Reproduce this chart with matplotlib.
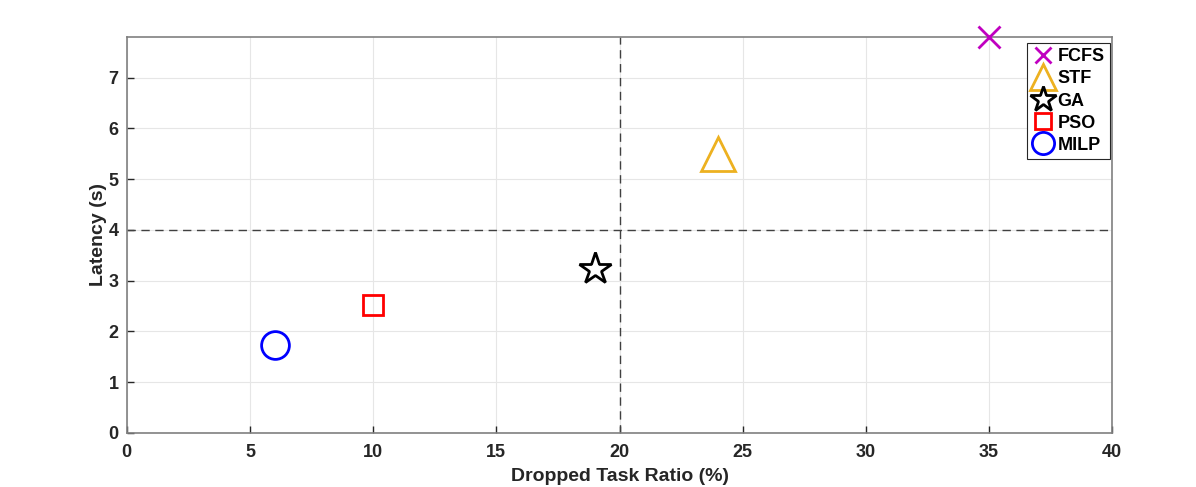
import matplotlib
matplotlib.use("Agg")
import matplotlib.pyplot as plt
from matplotlib.lines import Line2D

# method names and their (dropped task ratio, latency) positions
methods = ["FCFS", "STF", "GA", "PSO", "MILP"]
dropped_ratio = [35, 24, 19, 10, 6]
latency = [7.8, 5.5, 3.22, 2.53, 1.74]

markers = ["x", "^", "*", "s", "o"]
colors = ["#C000C0", "#EDB120", "black", "red", "blue"]
sizes = [16, 24, 24, 15, 20]
legend_sizes = [11, 19, 19, 11, 16]

plt.rcParams["font.family"] = ["Liberation Sans", "DejaVu Sans"]
plt.rcParams["font.weight"] = "bold"

fig = plt.figure(figsize=(11.96, 4.87), dpi=100)
ax = fig.add_axes([0.106, 0.111, 0.824, 0.813])

handles = []
for name, x, y, m, c, s, ls in zip(methods, dropped_ratio, latency, markers, colors, sizes, legend_sizes):
    face = "white" if m == "*" else "none"
    ax.plot([x], [y], linestyle="none", marker=m, markersize=s, markeredgewidth=2,
            markeredgecolor=c, markerfacecolor=face, zorder=3, clip_on=False)
    handles.append(Line2D([], [], linestyle="none", marker=m, markersize=ls, markeredgewidth=2,
                          markeredgecolor=c, markerfacecolor=face, label=name))

ax.axvline(20, color="#404040", linestyle=(0, (6, 4)), linewidth=1, zorder=2)
ax.axhline(4, color="#404040", linestyle=(0, (6, 4)), linewidth=1, zorder=2)

ax.set_xlim(0, 40)
ax.set_ylim(0, 7.8)
ax.set_xticks(range(0, 41, 5))
ax.set_yticks(range(0, 8))
ax.grid(True, color="#E6E6E6", linewidth=0.8)
ax.set_axisbelow(True)
ax.tick_params(direction="in", length=5, width=1, colors="#262626", labelsize=13)
ax.tick_params(axis="x", pad=8)
ax.tick_params(axis="y", pad=6)
for spine in ax.spines.values():
    spine.set_color("#808080")
    spine.set_linewidth(1.2)
for lbl in ax.get_xticklabels() + ax.get_yticklabels():
    lbl.set_fontweight("bold")

ax.set_xlabel("Dropped Task Ratio (%)", fontsize=14, fontweight="bold", color="#262626", labelpad=5)
ax.set_ylabel("Latency (s)", fontsize=14, fontweight="bold", color="#262626", labelpad=1)

leg = ax.legend(handles=handles, loc="upper right", bbox_to_anchor=(1110 / 1196, 1 - 43 / 487),
                bbox_transform=fig.transFigure, fancybox=False, framealpha=1,
                edgecolor="#262626", fontsize=13, handlelength=1.2, handletextpad=0.2,
                labelspacing=0.28, borderpad=0.3, borderaxespad=0)
leg.get_frame().set_linewidth(0.8)
for t in leg.get_texts():
    t.set_fontweight("bold")

fig.savefig("out.png", dpi=100)
